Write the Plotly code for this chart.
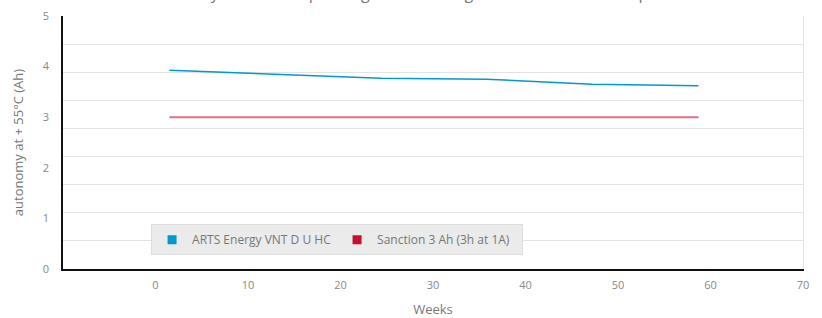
import plotly.graph_objects as go

# Data
weeks_arts = [1.5, 24.4, 35.8, 47.2, 58.7]
autonomy_arts = [3.93, 3.77, 3.75, 3.65, 3.62]
weeks_sanction = [1.5, 58.7]
autonomy_sanction = [3.0, 3.0]
x_ticks = [0, 10, 20, 30, 40, 50, 60, 70]
y_ticks = [0, 1, 2, 3, 4, 5]
grid_levels = list(range(0, 10))

BLUE = "#0099cc"
RED = "#c8102e"
FONT = "Open Sans"

fig = go.Figure()

# hidden helper trace to carry the 9-division grid axis
fig.add_trace(go.Scatter(x=[None], y=[None], yaxis="y2", showlegend=False, hoverinfo="skip"))

fig.add_trace(go.Scatter(x=weeks_arts, y=autonomy_arts, mode="lines",
                         line=dict(color=BLUE, width=1.5), showlegend=False))
fig.add_trace(go.Scatter(x=weeks_sanction, y=autonomy_sanction, mode="lines",
                         line=dict(color="rgba(200,16,46,0.6)", width=2), showlegend=False))

# legend entries with square symbols
fig.add_trace(go.Scatter(x=[None], y=[None], mode="markers", name="ARTS Energy VNT D U HC",
                         marker=dict(symbol="square", size=9, color=BLUE)))
fig.add_trace(go.Scatter(x=[None], y=[None], mode="markers", name="Sanction 3 Ah (3h at 1A)",
                         marker=dict(symbol="square", size=9, color=RED)))

fig.add_annotation(text="Evolution of the autonomy @ +55°C depending on the storage time at ambient temperature",
                   xref="paper", yref="paper", x=-0.06, y=1, xanchor="left", yanchor="bottom",
                   yshift=10, showarrow=False, font=dict(family=FONT, size=16, color="#777777"))

fig.update_layout(
    width=822, height=318,
    margin=dict(l=63, r=19, t=16, b=49, autoexpand=False),
    paper_bgcolor="white", plot_bgcolor="white",
    font=dict(family=FONT, color="#888888", size=11),
    xaxis=dict(range=[-10, 70], tickvals=x_ticks, showgrid=False, zeroline=False,
               showline=True, linecolor="#111111", linewidth=2, ticks="",
               automargin=False, ticklabelstandoff=5,
               tickfont=dict(size=11, color="#888888"),
               title=dict(text="Weeks", font=dict(size=13, color="#777777"), standoff=17)),
    yaxis=dict(range=[0, 5], tickvals=y_ticks, showgrid=False, zeroline=False,
               showline=True, linecolor="#111111", linewidth=1.5, ticks="",
               automargin=False, ticklabelstandoff=10,
               tickfont=dict(size=11, color="#888888"),
               title=dict(text="autonomy at + 55°C (Ah)", font=dict(size=13, color="#777777"), standoff=16)),
    yaxis2=dict(range=[0, 9], tickvals=grid_levels, overlaying="y", side="right",
                showgrid=True, gridcolor="#e3e3e3", gridwidth=1, zeroline=False,
                automargin=False,
                showticklabels=False, showline=True, linecolor="#e3e3e3", ticks=""),
    legend=dict(orientation="h", x=0.119, y=0.177, xanchor="left", yanchor="top",
                bgcolor="#ebebeb", bordercolor="#dddddd", borderwidth=1,
                font=dict(family=FONT, size=12, color="#777777"),
                entrywidth=140, itemwidth=30, tracegroupgap=0),
)

fig.write_html("out.html", post_script="document.body.style.margin='0';",
               config={"displayModeBar": False})
